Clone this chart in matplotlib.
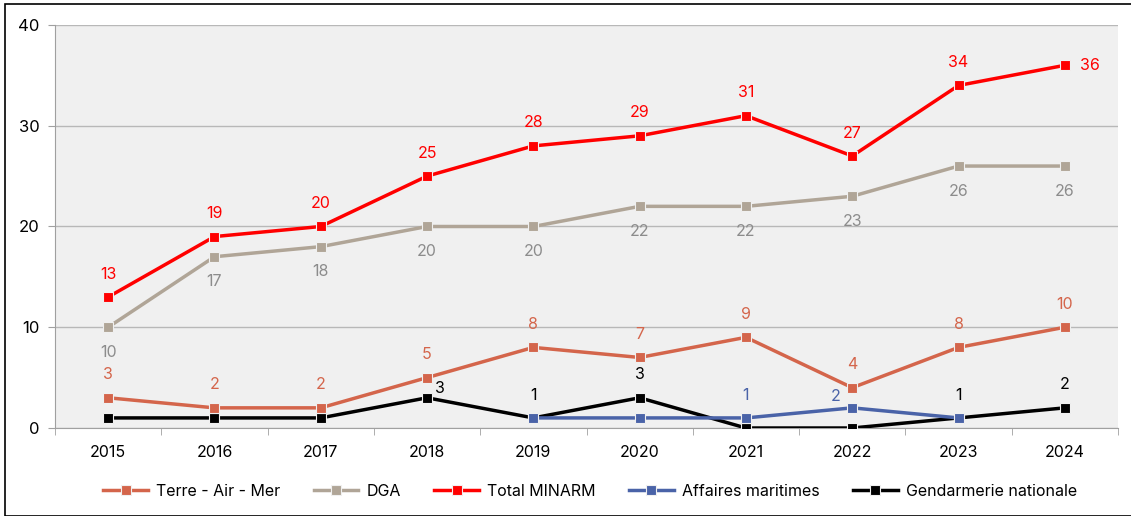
import numpy as np
import matplotlib.pyplot as plt
from matplotlib.patches import Rectangle

plt.rcParams['font.family'] = ['Inter', 'DejaVu Sans']

years = ["2015", "2016", "2017", "2018", "2019", "2020", "2021", "2022", "2023", "2024"]
terre_air_mer = [3, 2, 2, 5, 8, 7, 9, 4, 8, 10]
dga = [10, 17, 18, 20, 20, 22, 22, 23, 26, 26]
total_minarm = [13, 19, 20, 25, 28, 29, 31, 27, 34, 36]
affaires_maritimes = [np.nan, np.nan, np.nan, np.nan, 1, 1, 1, 2, 1, np.nan]
gendarmerie = [1, 1, 1, 3, 1, 3, 0, 0, 1, 2]

# which points carry a value label
gend_labels = [3, 4, 5, 8, 9]
affmar_labels = [6, 7]

c_tam = "#d4654b"
c_dga = "#b0a597"
c_dga_txt = "#8c8c8c"
c_tot = "#ff0000"
c_aff = "#4a63a8"
c_gen = "#000000"

fig = plt.figure(figsize=(11.31, 5.16), dpi=100)
ax = fig.add_axes([55/1131, 1 - 428/516, (1118-55)/1131, (428-25)/516])
ax.set_facecolor("#f0f0f0")

x = np.arange(len(years))
ms = 7.5
lw = 2.5
kw = dict(lw=lw, marker="s", ms=ms, mec="#f0f0f0", mew=0.8)
ax.plot(x, gendarmerie, color=c_gen, label="Gendarmerie nationale", zorder=3, **kw)
ax.plot(x, affaires_maritimes, color=c_aff, label="Affaires maritimes", zorder=4, **kw)
ax.plot(x, terre_air_mer, color=c_tam, label="Terre - Air - Mer", zorder=5, **kw)
ax.plot(x, dga, color=c_dga, label="DGA", zorder=5, **kw)
ax.plot(x, total_minarm, color=c_tot, label="Total MINARM", zorder=6, **kw)

fs = 11.5
up = 16.5
down = -18


def label(i, v, color, dx=0, dy=up, ha="center"):
    ax.annotate(str(int(v)), (i, v), xytext=(dx, dy), textcoords="offset points",
                ha=ha, va="center", color=color, fontsize=fs)


for i, v in enumerate(total_minarm):
    if i == len(years) - 1:
        label(i, v, c_tot, dx=11, dy=0, ha="left")
    else:
        label(i, v, c_tot)
for i, v in enumerate(dga):
    label(i, v, c_dga_txt, dy=down)
for i, v in enumerate(terre_air_mer):
    label(i, v, c_tam)
for i in gend_labels:
    if i == 3:
        label(i, gendarmerie[i], c_gen, dx=9.5, dy=7)
    else:
        label(i, gendarmerie[i], c_gen)
for i in affmar_labels:
    if i == 7:
        label(i, affaires_maritimes[i], c_aff, dx=-12, dy=8.5)
    else:
        label(i, affaires_maritimes[i], c_aff)

ax.set_xlim(-0.5, len(years) - 0.5)
ax.set_ylim(0, 40)
ax.set_yticks([0, 10, 20, 30, 40])
ax.set_xticks(x)
ax.set_xticklabels(years)
ax.set_xticks(np.arange(-0.5, len(years), 1), minor=True)
ax.tick_params(axis="x", which="major", length=0, pad=12, labelsize=fs)
ax.tick_params(axis="x", which="minor", length=5, color="#a0a0a0")
ax.tick_params(axis="y", length=5, color="#a0a0a0", pad=6, labelsize=fs + 0.5)
ax.grid(axis="y", color="#b8b8b8", lw=1)
ax.set_axisbelow(True)
for s in ["top", "right"]:
    ax.spines[s].set_visible(False)
ax.spines["left"].set_color("#a0a0a0")
ax.spines["bottom"].set_color("#a0a0a0")

handles, labels = ax.get_legend_handles_labels()
order = [labels.index(n) for n in
         ["Terre - Air - Mer", "DGA", "Total MINARM", "Affaires maritimes", "Gendarmerie nationale"]]
fig.legend([handles[k] for k in order], [labels[k] for k in order],
           loc="center", bbox_to_anchor=(590/1131, 1 - 491/516), ncol=5, frameon=False,
           fontsize=fs, handlelength=2.8, columnspacing=2.1, handletextpad=0.5)

fig.add_artist(Rectangle((5/1131, 0), 1.2, 1 - 4/516, transform=fig.transFigure,
                         fill=False, edgecolor="#000000", lw=1.2))

fig.savefig("out.png", dpi=100)
